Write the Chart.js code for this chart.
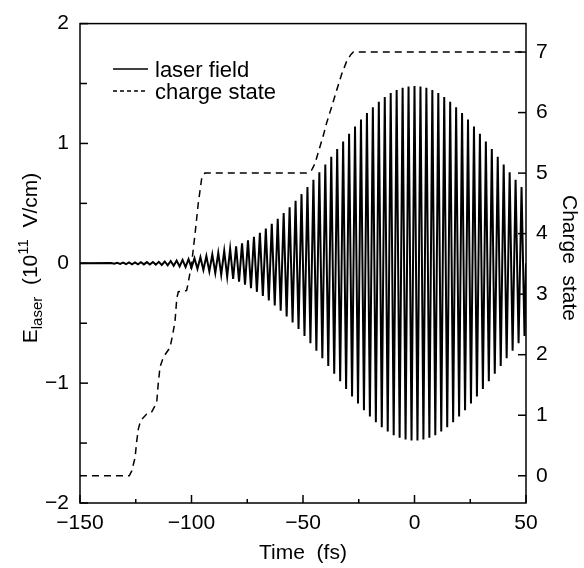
<!DOCTYPE html>
<html><head><meta charset="utf-8">
<script src="https://cdn.jsdelivr.net/npm/chart.js@4/dist/chart.umd.min.js"></script>
<style>html,body{margin:0;padding:0;background:#fff}#wrap{width:584px;height:568px;position:relative}</style>
</head><body><div id="wrap"><canvas id="c"></canvas></div>
<script>
// Laser field: time (fs) of each extremum and the field value there (10^11 V/cm)
const fieldTime = [-150,
-136.00,-134.67,-133.33,-132.00,-130.67,-129.33,-128.00,-126.67,-125.33,-124.00,
-122.67,-121.33,-120.00,-118.67,-117.33,-116.00,-114.67,-113.33,-112.00,-110.67,
-109.33,-108.00,-106.67,-105.33,-104.00,-102.67,-101.33,-100.00,-98.67,-97.33,
-96.00,-94.67,-93.33,-92.00,-90.67,-89.33,-88.00,-86.67,-85.33,-84.00,
-82.67,-81.33,-80.00,-78.67,-77.33,-76.00,-74.67,-73.33,-72.00,-70.67,
-69.33,-68.00,-66.67,-65.33,-64.00,-62.67,-61.33,-60.00,-58.67,-57.33,
-56.00,-54.67,-53.33,-52.00,-50.67,-49.33,-48.00,-46.67,-45.33,-44.00,
-42.67,-41.33,-40.00,-38.67,-37.33,-36.00,-34.67,-33.33,-32.00,-30.67,
-29.33,-28.00,-26.67,-25.33,-24.00,-22.67,-21.33,-20.00,-18.67,-17.33,
-16.00,-14.67,-13.33,-12.00,-10.67,-9.33,-8.00,-6.67,-5.33,-4.00,
-2.67,-1.33,0.00,1.33,2.67,4.00,5.33,6.67,8.00,9.33,
10.67,12.00,13.33,14.67,16.00,17.33,18.67,20.00,21.33,22.67,
24.00,25.33,26.67,28.00,29.33,30.67,32.00,33.33,34.67,36.00,
37.33,38.67,40.00,41.33,42.67,44.00,45.33,46.67,48.00,49.33,
50];
const fieldValue = [0,
0.002,-0.003,0.004,-0.005,0.006,-0.007,0.007,-0.008,0.008,-0.008,
0.009,-0.009,0.010,-0.010,0.011,-0.011,0.012,-0.014,0.015,-0.017,
0.019,-0.021,0.023,-0.026,0.028,-0.031,0.035,-0.038,0.042,-0.046,
0.051,-0.056,0.061,-0.067,0.073,-0.080,0.087,-0.095,0.103,-0.112,
0.121,-0.131,0.142,-0.153,0.166,-0.179,0.192,-0.207,0.222,-0.238,
0.254,-0.272,0.290,-0.310,0.330,-0.351,0.372,-0.395,0.419,-0.443,
0.468,-0.494,0.521,-0.549,0.577,-0.606,0.636,-0.667,0.698,-0.729,
0.760,-0.792,0.824,-0.857,0.889,-0.921,0.953,-0.985,1.017,-1.049,
1.080,-1.111,1.141,-1.170,1.199,-1.226,1.253,-1.278,1.303,-1.326,
1.348,-1.368,1.387,-1.404,1.420,-1.434,1.446,-1.456,1.465,-1.471,
1.476,-1.479,1.480,-1.479,1.476,-1.471,1.465,-1.456,1.446,-1.434,
1.420,-1.404,1.387,-1.368,1.348,-1.326,1.303,-1.278,1.253,-1.226,
1.199,-1.170,1.141,-1.111,1.080,-1.049,1.017,-0.985,0.953,-0.921,
0.889,-0.857,0.824,-0.792,0.760,-0.729,0.698,-0.667,0.636,-0.606,
0];
// Charge state vs time
const chargeTime = [-150,-127.9,-126.8,-125.3,-124.6,-123.8,-122.8,-120.1,-117.9,-115.6,-114.9,-114.1,-112.6,-109.6,-108.4,-107.4,-106.6,-105.9,-102.2,-101.4,-99.9,-98.4,-97.0,-95.4,-94.0,-48.5,-46.1,-44.6,-43.1,-40.9,-39.4,-37.1,-34.9,-32.6,-30.4,-28.5,-27.4,50];
const chargeValue = [0,0,0.08,0.30,0.56,0.78,0.91,1.02,1.05,1.21,1.53,1.80,1.96,2.12,2.34,2.55,2.93,3.04,3.06,3.20,3.52,4.00,4.49,4.92,5.00,5.00,5.05,5.16,5.35,5.62,5.83,6.10,6.37,6.64,6.85,6.96,7.00,7.00];

const xTicks = [-150,-100,-50,0,50];
const xMinorTicks = [-125,-75,-25,25];
const yTicks = [-2,-1,0,1,2];
const yMinorTicks = [-1.5,-0.5,0.5,1.5];
const chargeTicks = [0,1,2,3,4,5,6,7];
const seriesLabels = ['laser field','charge state'];

const FONT = '"Liberation Sans", Arial, Helvetica, sans-serif';
const fmt = v => String(v).replace('-', '\u2212');

const fieldData = fieldTime.map((t,i)=>({x:t,y:fieldValue[i]}));
const chargeData = chargeTime.map((t,i)=>({x:t,y:chargeValue[i]}));

const decor = {
  id:'decor',
  afterDraw(chart){
    const ctx = chart.ctx, ca = chart.chartArea;
    const sx = chart.scales.x, sy = chart.scales.y, sq = chart.scales.y2;
    ctx.save();
    ctx.strokeStyle = '#000'; ctx.lineWidth = 1.5;
    ctx.strokeRect(ca.left, ca.top, ca.right-ca.left, ca.bottom-ca.top);
    const line=(a,b,c,d)=>{ctx.beginPath();ctx.moveTo(a,b);ctx.lineTo(c,d);ctx.stroke();};
    xTicks.forEach(v=>{const p=sx.getPixelForValue(v); line(p,ca.bottom,p,ca.bottom-8);});
    xMinorTicks.forEach(v=>{const p=sx.getPixelForValue(v); line(p,ca.bottom,p,ca.bottom-4);});
    yTicks.forEach(v=>{const p=sy.getPixelForValue(v); line(ca.left,p,ca.left+8,p);});
    yMinorTicks.forEach(v=>{const p=sy.getPixelForValue(v); line(ca.left,p,ca.left+7,p);});
    chargeTicks.forEach(v=>{const p=sq.getPixelForValue(v); line(ca.right,p,ca.right-8,p);});

    ctx.fillStyle = '#000';
    ctx.font = '21px '+FONT; ctx.textAlign='center'; ctx.textBaseline='alphabetic';
    ctx.fillText('Time  (fs)', (ca.left+ca.right)/2, 559);

    const runs = [
      {t:'E', s:21, dy:0},
      {t:'laser', s:15, dy:5},
      {t:'  (10', s:21, dy:0},
      {t:'11', s:15, dy:-9},
      {t:'  V/cm)', s:21, dy:0}
    ];
    let total = 0;
    runs.forEach(r=>{ctx.font=r.s+'px '+FONT; r.w=ctx.measureText(r.t).width; total+=r.w;});
    ctx.save();
    ctx.translate(37, 258); ctx.rotate(-Math.PI/2);
    ctx.textAlign='left'; ctx.textBaseline='alphabetic';
    let xx = -total/2;
    runs.forEach(r=>{ctx.font=r.s+'px '+FONT; ctx.fillText(r.t, xx, r.dy); xx+=r.w;});
    ctx.restore();

    ctx.save();
    ctx.translate(563, 258); ctx.rotate(Math.PI/2);
    ctx.font = '21px '+FONT; ctx.textAlign='center'; ctx.textBaseline='alphabetic';
    ctx.fillText('Charge  state', 0, 0);
    ctx.restore();

    ctx.lineWidth = 1.5;
    ctx.setLineDash([]); line(113,69,148,69);
    ctx.setLineDash([4,3]); line(113,91,148,91);
    ctx.setLineDash([]);
    ctx.font = '22px '+FONT; ctx.textAlign='left'; ctx.textBaseline='alphabetic';
    ctx.fillText(seriesLabels[0], 155, 77);
    ctx.fillText(seriesLabels[1], 155, 99);
    ctx.restore();
  }
};

new Chart(document.getElementById('c'), {
  type:'line',
  data:{datasets:[
    {label:seriesLabels[0], data:fieldData, yAxisID:'y', borderColor:'#000', borderWidth:2, pointRadius:0, tension:0, fill:false},
    {label:seriesLabels[1], data:chargeData, yAxisID:'y2', borderColor:'#000', borderWidth:1.5, borderDash:[7,5], pointRadius:0, tension:0, fill:false}
  ]},
  options:{
    responsive:true, maintainAspectRatio:false, animation:false,
    layout:{padding:{top:11,left:0,right:0,bottom:0}},
    plugins:{legend:{display:false}, tooltip:{enabled:false}},
    scales:{
      x:{type:'linear', min:-150, max:50, grid:{display:false, drawTicks:false}, border:{display:false},
         afterBuildTicks:s=>{s.ticks = xTicks.map(v=>({value:v}));},
         afterFit:s=>{s.height = 65;},
         ticks:{callback:v=>fmt(v), color:'#000', font:{size:21, family:FONT}, padding:8, maxRotation:0, autoSkip:false}},
      y:{type:'linear', position:'left', min:-2, max:2, grid:{display:false, drawTicks:false}, border:{display:false},
         afterBuildTicks:s=>{s.ticks = yTicks.map(v=>({value:v}));},
         afterFit:s=>{s.width = 80;},
         ticks:{callback:v=>fmt(v), color:'#000', font:{size:21, family:FONT}, padding:11}},
      y2:{type:'linear', position:'right', min:-0.45, max:7.47, grid:{display:false, drawTicks:false}, border:{display:false},
         afterBuildTicks:s=>{s.ticks = chargeTicks.map(v=>({value:v}));},
         afterFit:s=>{s.width = 58;},
         ticks:{callback:v=>fmt(v), color:'#000', font:{size:21, family:FONT}, padding:10}}
    }
  },
  plugins:[decor]
});
</script></body></html>
